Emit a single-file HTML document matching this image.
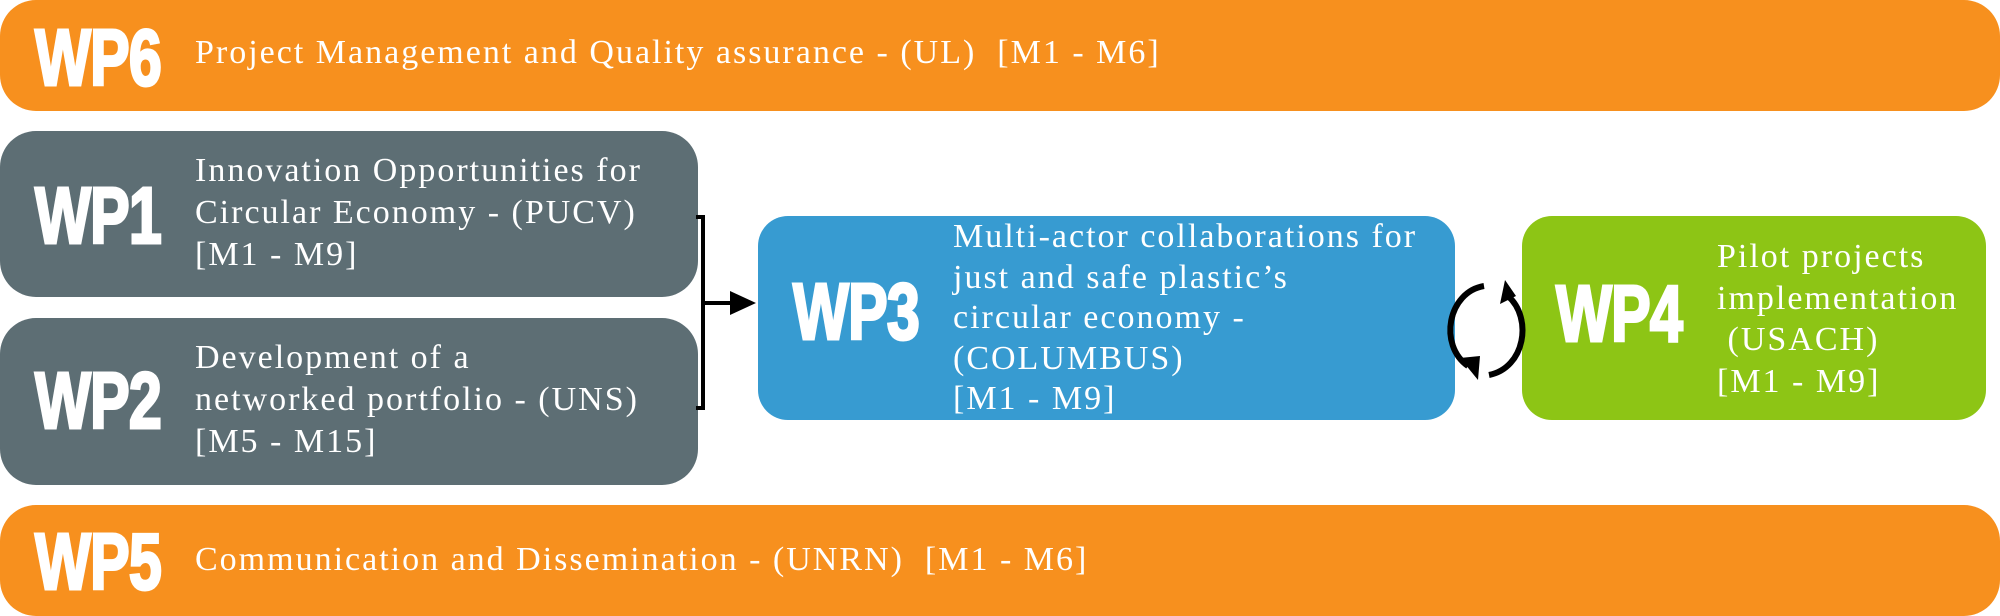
<!DOCTYPE html>
<html><head><meta charset="utf-8"><style>
body{margin:0;width:2000px;height:616px;background:#fff;position:relative;overflow:hidden;font-family:"Liberation Serif",serif}
.b{position:absolute;border-radius:36px}
.o{background:#F7901E}.g{background:#5D6E74}.bl{background:#379BD1;border-radius:30px}.gr{background:#8DC515;border-radius:30px}
.wp{position:absolute;color:#fff;font-family:"Liberation Sans",sans-serif;font-weight:bold;font-size:80px;line-height:1;transform:scaleX(.74);transform-origin:left center;letter-spacing:-1px;-webkit-text-stroke:3px #fff}
.t{position:absolute;color:#fff;font-size:34px;letter-spacing:2px;line-height:42px;white-space:nowrap}
</style></head><body>
<div class="b o" style="left:0;top:0;width:2000px;height:111px"></div>
<div class="wp" style="left:35px;top:18px">WP6</div>
<div class="t" style="left:195px;top:32px">Project Management and Quality assurance - (UL)&nbsp; [M1 - M6]</div>

<div class="b g" style="left:0;top:131px;width:698px;height:166px"></div>
<div class="wp" style="left:35px;top:176px">WP1</div>
<div class="t" style="left:195px;top:150px">Innovation Opportunities for<br>Circular Economy - (PUCV)<br>[M1 - M9]</div>

<div class="b g" style="left:0;top:318px;width:698px;height:167px"></div>
<div class="wp" style="left:35px;top:361px">WP2</div>
<div class="t" style="left:195px;top:337px">Development of a<br>networked portfolio - (UNS)<br>[M5 - M15]</div>

<div class="b o" style="left:0;top:505px;width:2000px;height:111px"></div>
<div class="wp" style="left:35px;top:522px">WP5</div>
<div class="t" style="left:195px;top:539px">Communication and Dissemination - (UNRN)&nbsp; [M1 - M6]</div>

<div class="b bl" style="left:758px;top:216px;width:697px;height:204px"></div>
<div class="wp" style="left:793px;top:272px">WP3</div>
<div class="t" style="left:953px;top:217px;line-height:40.5px">Multi-actor collaborations for<br>just and safe plastic’s<br>circular economy -<br>(COLUMBUS)<br>[M1 - M9]</div>

<div class="b gr" style="left:1522px;top:216px;width:464px;height:204px"></div>
<div class="wp" style="left:1556px;top:274px">WP4</div>
<div class="t" style="left:1717px;top:236px;line-height:41.5px">Pilot projects<br>implementation<br>&nbsp;(USACH)<br>[M1 - M9]</div>

<svg style="position:absolute;left:0;top:0" width="2000" height="616">
<polyline points="696,217 703,217 703,408 696,408" fill="none" stroke="#000" stroke-width="4"/>
<line x1="703" y1="303" x2="735" y2="303" stroke="#000" stroke-width="4"/>
<polygon points="756,303 730,291 730,315" fill="#000"/>
<path d="M1484,286 C1448,292 1438,345 1468,366" fill="none" stroke="#000" stroke-width="6"/>
<polygon points="1460,358 1480,356 1478,380" fill="#000"/>
<path d="M1489,375 C1525,368 1533,318 1508,296" fill="none" stroke="#000" stroke-width="6"/>
<polygon points="1500,304 1516,296 1505,280" fill="#000"/>
</svg>
</body></html>
